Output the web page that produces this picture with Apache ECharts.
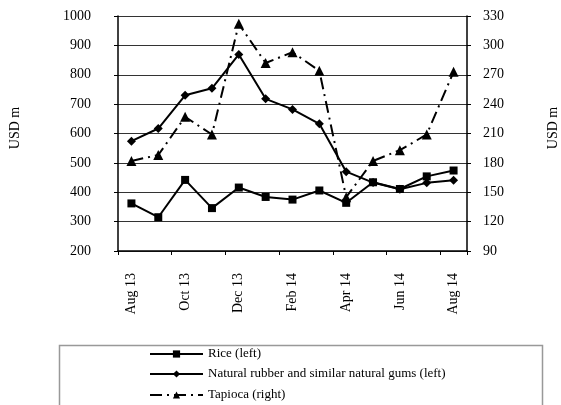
<!DOCTYPE html>
<html>
<head>
<meta charset="utf-8">
<script src="https://cdn.jsdelivr.net/npm/echarts@6/dist/echarts.min.js"></script>
<style>html,body{margin:0;padding:0;background:#fff}#c{width:561px;height:405px}</style>
</head>
<body>
<div id="c"></div>
<script>
const categories = ['Aug 13','Sep 13','Oct 13','Nov 13','Dec 13','Jan 14','Feb 14','Mar 14','Apr 14','May 14','Jun 14','Jul 14','Aug 14'];
const rice = [362, 315, 442, 346, 416, 384, 375, 406, 364, 434, 411, 454, 474];
const rubber = [574, 617, 730, 754, 869, 718, 682, 633, 470, 433, 410, 432, 441];
const tapioca = [182, 188, 227, 209, 322, 282, 293, 274, 145, 182, 193, 209, 273];
const seriesNames = ['Rice (left)', 'Natural rubber and similar natural gums (left)', 'Tapioca (right)'];
const FONT = "'Liberation Serif', 'Times New Roman', serif";

const legendTops = [347, 367, 388];
const legends = seriesNames.map((n, i) => ({
  orient: 'horizontal', left: 149, top: legendTops[i], itemWidth: 53, itemHeight: 9,
  padding: 0, textStyle: {fontFamily: FONT, fontSize: 13, color: '#000', lineHeight: 14},
  data: [n]
}));

const chart = echarts.init(document.getElementById('c'), null, {renderer: 'canvas'});
chart.setOption({
  animation: false,
  backgroundColor: '#fff',
  textStyle: {fontFamily: FONT, color: '#000'},
  grid: {left: 118, right: 94, top: 16, bottom: 154, containLabel: false, outerBoundsMode: 'none'},
  legend: legends,
  graphic: [
    {type: 'rect', left: 57, top: 343, shape: {width: 483, height: 80}, style: {fill: 'none', stroke: '#999', lineWidth: 1.5}, z: -1},
    {type: 'text', x: 15, y: 128, rotation: Math.PI / 2, style: {text: 'USD m', font: "14px 'Liberation Serif', serif", fill: '#000', align: 'center', verticalAlign: 'middle'}},
    {type: 'text', x: 553, y: 128, rotation: Math.PI / 2, style: {text: 'USD m', font: "14px 'Liberation Serif', serif", fill: '#000', align: 'center', verticalAlign: 'middle'}}
  ],
  xAxis: {
    type: 'category', data: categories, boundaryGap: true,
    axisLine: {lineStyle: {color: '#000', width: 1.5}},
    axisTick: {show: true, interval: 1, length: 4, lineStyle: {color: '#000'}},
    axisLabel: {interval: 1, rotate: 90, margin: 22, fontFamily: FONT, fontSize: 14, color: '#000'}
  },
  yAxis: [{
    type: 'value', min: 200, max: 1000, interval: 100, position: 'left',
    axisLine: {show: true, lineStyle: {color: '#000', width: 1.5}},
    axisTick: {show: true, length: 4, lineStyle: {color: '#000'}},
    axisLabel: {margin: 27, fontFamily: FONT, fontSize: 14, color: '#000', formatter: v => String(v)},
    splitLine: {show: true, lineStyle: {color: '#333', width: 1}}
  }, {
    type: 'value', min: 90, max: 330, interval: 30, position: 'right',
    axisLine: {show: true, lineStyle: {color: '#000', width: 1.5}},
    axisTick: {show: true, length: 4, lineStyle: {color: '#000'}},
    axisLabel: {margin: 16, fontFamily: FONT, fontSize: 14, color: '#000', formatter: v => String(v)},
    splitLine: {show: false}
  }],
  series: [{
    name: seriesNames[0], type: 'line', yAxisIndex: 0, data: rice,
    symbol: 'rect', symbolSize: 8,
    lineStyle: {color: '#000', width: 2}, itemStyle: {color: '#000'}
  }, {
    name: seriesNames[1], type: 'line', yAxisIndex: 0, data: rubber,
    symbol: 'diamond', symbolSize: 9,
    lineStyle: {color: '#000', width: 2}, itemStyle: {color: '#000'}
  }, {
    name: seriesNames[2], type: 'line', yAxisIndex: 1, data: tapioca,
    symbol: 'triangle', symbolSize: 10,
    lineStyle: {color: '#000', width: 2, type: [12, 5, 2, 5]}, itemStyle: {color: '#000'}
  }]
});
</script>
</body>
</html>
